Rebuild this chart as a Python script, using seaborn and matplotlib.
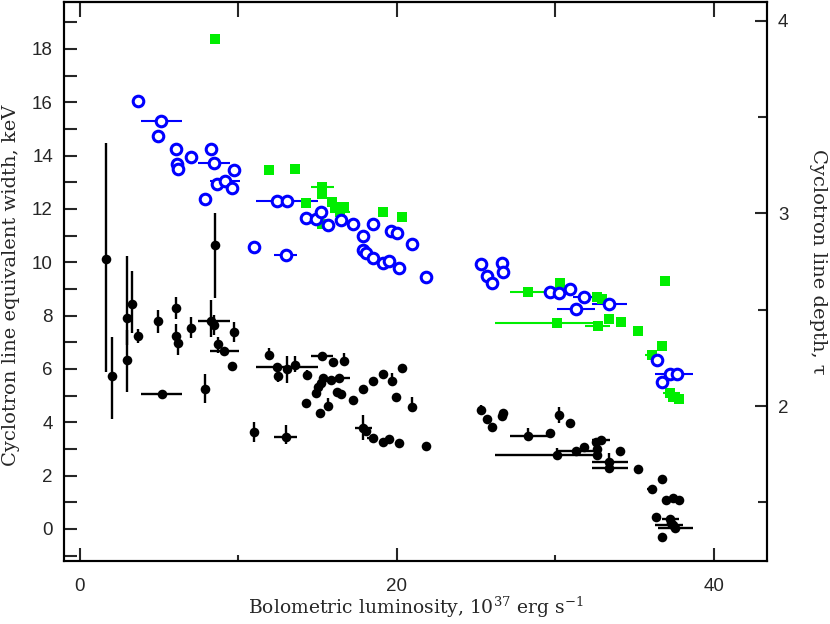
import numpy as np
import matplotlib
matplotlib.use('Agg')
import matplotlib.pyplot as plt
import seaborn as sns
from matplotlib.ticker import MultipleLocator, FixedLocator

# ---------------- data ----------------
# black: cyclotron line equivalent width (keV, left axis)
bk_L = [1.65, 2.05, 3.00, 3.00, 3.27, 3.67, 4.95, 5.17, 6.07, 6.07,
        6.21, 7.00, 7.90, 8.28, 8.49, 8.55, 8.72, 9.12, 9.62, 9.71,
        11.01, 11.96, 12.47, 12.52, 13.05, 13.01, 13.60, 14.32, 14.25, 14.90,
        15.05, 15.20, 15.36, 15.85, 15.26, 15.96, 16.65, 16.37, 15.15, 15.64,
        16.21, 16.46, 17.22, 17.85, 18.52, 19.15, 19.72, 20.31, 19.97, 20.96,
        17.89, 18.06, 18.48, 19.15, 19.51, 20.12, 21.84, 25.32, 25.72, 26.02,
        26.61, 26.72, 28.31, 29.67, 30.25, 30.91, 30.13, 31.32, 31.82, 32.57,
        32.87, 32.63, 32.66, 33.41, 33.41, 34.11, 35.23, 36.74, 36.09, 36.97,
        37.44, 37.82, 36.38, 37.26, 37.30, 37.44, 37.58, 36.74]
bk_ew = [10.11, 5.75, 7.92, 6.34, 8.44, 7.25, 7.80, 5.05, 8.30, 7.25,
         6.96, 7.55, 5.26, 7.81, 7.66, 10.65, 6.94, 6.69, 6.12, 7.39,
         3.64, 6.52, 6.06, 5.74, 6.00, 3.45, 6.15, 5.77, 4.71, 5.09,
         5.31, 5.46, 5.67, 5.59, 6.50, 6.25, 6.31, 5.67, 4.34, 4.61,
         5.13, 5.06, 4.84, 5.26, 5.56, 5.81, 5.56, 6.05, 4.96, 4.59,
         3.78, 3.67, 3.42, 3.27, 3.37, 3.24, 3.12, 4.45, 4.12, 3.82,
         4.24, 4.35, 3.50, 3.59, 4.27, 3.99, 2.77, 2.94, 3.06, 3.27,
         3.33, 3.00, 2.76, 2.52, 2.30, 2.92, 2.24, 1.86, 1.49, 1.10,
         1.18, 1.07, 0.46, 0.38, 0.23, 0.15, 0.02, -0.29]
bk_xbar_idx = [7, 13, 17, 22, 25, 34, 37, 45, 50, 52, 62, 66, 67, 70, 73, 74, 78, 83, 85, 86]
bk_xbar_lo = [3.86, 7.48, 8.21, 11.10, 12.27, 14.57, 16.10, 18.90, 17.36, 18.10,
              27.14, 26.20, 30.09, 32.32, 32.30, 32.30, 35.77, 36.71, 36.29, 36.50]
bk_xbar_hi = [6.47, 9.48, 10.06, 15.00, 13.70, 15.99, 17.05, 19.46, 18.42, 18.81,
              29.66, 32.50, 32.50, 33.45, 34.56, 34.56, 36.35, 37.80, 38.07, 38.67]
bk_ybar_idx = [0, 1, 2, 3, 4, 5, 6, 7, 8, 9, 10, 11, 12, 13, 14, 15, 16, 19, 20, 21,
               23, 24, 25, 26, 27, 36, 39, 46, 49, 50, 57, 62, 64, 66, 74]
bk_ybar_lo = [5.89, 4.12, 6.90, 5.15, 7.36, 6.97, 7.35, 4.87, 7.87, 6.90,
              6.52, 7.16, 4.72, 7.20, 7.27, 8.66, 6.60, 7.01, 3.26, 6.37,
              5.51, 5.47, 3.19, 5.89, 5.62, 6.15, 4.46, 5.36, 4.39, 3.34,
              4.31, 3.34, 3.96, 2.66, 2.21]
bk_ybar_hi = [14.47, 7.20, 10.25, 7.46, 9.69, 7.50, 8.21, 5.21, 8.70, 7.69,
              7.24, 7.95, 5.81, 8.59, 8.02, 11.85, 7.20, 7.76, 4.01, 6.79,
              6.04, 6.49, 3.90, 6.49, 5.96, 6.61, 4.90, 5.84, 4.96, 4.27,
              4.65, 3.79, 4.59, 3.03, 2.84]

# blue open circles: line depth tau (right axis)
bl_L = [3.67, 5.15, 4.93, 6.07, 6.10, 6.20, 7.02, 8.25, 8.47, 9.73,
        8.66, 9.16, 9.60, 7.90, 10.99, 13.01, 12.44, 13.07, 14.25, 14.90,
        15.19, 15.63, 16.45, 17.22, 17.85, 18.50, 19.63, 20.03, 20.96, 17.89,
        18.06, 18.48, 19.15, 19.51, 20.12, 21.84, 25.31, 25.72, 26.01, 26.61,
        26.72, 29.67, 30.21, 30.91, 31.83, 31.32, 33.41, 36.40, 37.21, 37.65,
        36.72]
bl_tau = [3.583, 3.482, 3.401, 3.334, 3.256, 3.230, 3.295, 3.336, 3.264, 3.225,
          3.152, 3.168, 3.131, 3.074, 2.825, 2.784, 3.064, 3.064, 2.976, 2.970,
          3.007, 2.939, 2.965, 2.943, 2.882, 2.946, 2.908, 2.899, 2.841, 2.810,
          2.792, 2.770, 2.741, 2.754, 2.715, 2.671, 2.735, 2.675, 2.638, 2.744,
          2.694, 2.593, 2.586, 2.606, 2.564, 2.503, 2.528, 2.240, 2.166, 2.166,
          2.125]
bl_xbar_idx = [1, 8, 11, 15, 16, 29, 44, 45, 46, 49]
bl_xbar_lo = [3.86, 7.46, 8.21, 12.25, 11.12, 17.49, 31.12, 30.11, 32.32, 36.29]
bl_xbar_hi = [6.45, 9.48, 10.11, 13.70, 15.03, 18.31, 32.50, 32.50, 34.52, 38.69]

# green squares: line depth tau (right axis)
gr_L = [8.55, 11.92, 13.58, 15.28, 15.31, 14.27, 15.89, 16.13, 16.67, 16.42,
        19.13, 20.31, 15.28, 28.30, 30.30, 30.13, 32.61, 32.93, 32.68, 33.41,
        34.13, 35.23, 36.94, 36.73, 36.08, 37.24, 37.43, 37.82]
gr_tau = [3.905, 3.225, 3.232, 3.139, 3.100, 3.056, 3.059, 3.033, 3.031, 3.007,
          3.009, 2.981, 2.944, 2.591, 2.637, 2.429, 2.566, 2.554, 2.418, 2.450,
          2.438, 2.392, 2.651, 2.313, 2.267, 2.067, 2.048, 2.038]
gr_xbar_idx = [3, 9, 13, 15, 18, 24, 25]
gr_xbar_lo = [14.56, 15.79, 27.14, 26.20, 31.87, 35.66, 36.80]
gr_xbar_hi = [16.01, 17.05, 29.35, 32.82, 33.45, 36.61, 37.87]

x_label = "Bolometric luminosity, 10$^{37}$ erg s$^{-1}$"
y_label = "Cyclotron line equivalent width, keV"
y2_label = "Cyclotron line depth, \u03c4"

# ---------------- style ----------------
sns.set_style('ticks')
plt.rcParams['font.family'] = ['Liberation Sans', 'DejaVu Sans']
plt.rcParams['mathtext.fontset'] = 'dejavuserif'
plt.rcParams['axes.linewidth'] = 1.5

BLUE = '#0000ff'
GREEN = '#00ee00'

fig = plt.figure(figsize=(8.3, 6.24), dpi=100)
ax = fig.add_axes([64 / 830, 1 - 561 / 624, 703 / 830, 559 / 624])
ax2 = ax.twinx()


def xbars(axis, xs, ys, idx, lo, hi, color, lw):
    xx = np.array([xs[i] for i in idx])
    yy = np.array([ys[i] for i in idx])
    err = [xx - np.array(lo), np.array(hi) - xx]
    axis.errorbar(xx, yy, xerr=err, fmt='none', ecolor=color, elinewidth=lw, capsize=0, zorder=2)


def ybars(axis, xs, ys, idx, lo, hi, color, lw):
    xx = np.array([xs[i] for i in idx])
    yy = np.array([ys[i] for i in idx])
    err = [yy - np.array(lo), np.array(hi) - yy]
    axis.errorbar(xx, yy, yerr=err, fmt='none', ecolor=color, elinewidth=lw, capsize=0, zorder=2)


# black equivalent widths
xbars(ax, bk_L, bk_ew, bk_xbar_idx, bk_xbar_lo, bk_xbar_hi, 'black', 1.7)
ybars(ax, bk_L, bk_ew, bk_ybar_idx, bk_ybar_lo, bk_ybar_hi, 'black', 1.7)
sns.scatterplot(x=bk_L, y=bk_ew, ax=ax, color='black', s=48, linewidth=0, zorder=3)

# green squares
xbars(ax2, gr_L, gr_tau, gr_xbar_idx, gr_xbar_lo, gr_xbar_hi, GREEN, 1.5)
sns.scatterplot(x=gr_L, y=gr_tau, ax=ax2, color=GREEN, marker='s', s=62, linewidth=0, zorder=3)

# blue open circles
xbars(ax2, bl_L, bl_tau, bl_xbar_idx, bl_xbar_lo, bl_xbar_hi, BLUE, 1.5)
sns.scatterplot(x=bl_L, y=bl_tau, ax=ax2, color=BLUE, facecolor='white', edgecolor=BLUE,
                marker='o', s=58, linewidth=2.2, zorder=4)

# ---------------- axes ----------------
ax.set_xlim(-1.0, 43.36)
ax.set_ylim(-1.20, 19.76)
ax2.set_ylim(1.196, 4.097)

ax.xaxis.set_major_locator(FixedLocator([0, 20, 40]))
ax.xaxis.set_minor_locator(FixedLocator([10, 30]))
ax.yaxis.set_major_locator(MultipleLocator(2))
ax.yaxis.set_minor_locator(MultipleLocator(1))
ax.tick_params(axis='x', which='major', direction='in', length=9.5, width=1.5,
               top=False, pad=12, labelsize=13.5)
ax.tick_params(axis='x', which='minor', direction='in', length=4.5, width=1.5, top=False)
ax.tick_params(axis='y', which='both', direction='in', length=9, width=1.5,
               right=False, pad=8, labelsize=13.5)

ax2.yaxis.set_major_locator(FixedLocator([2, 3, 4]))
ax2.yaxis.set_minor_locator(FixedLocator([1.5, 2.5, 3.5]))
ax2.tick_params(axis='y', which='major', direction='in', length=9, width=1.5, pad=8, labelsize=13.5)
ax2.tick_params(axis='y', which='minor', direction='in', length=6.5, width=1.5)
for a in (ax, ax2):
    for s in a.spines.values():
        s.set_linewidth(1.5)
        s.set_color('black')

sec = ax.secondary_xaxis('top')
sec.set_xticks([0, 10, 20, 30, 40])
sec.set_xticklabels([])
sec.tick_params(direction='in', length=10.5, width=1.5)
sec.spines['top'].set_linewidth(1.5)

ax.set_xlabel(x_label, fontfamily='DejaVu Serif', fontsize=13.5)
ax.set_ylabel(y_label, fontfamily='DejaVu Serif', fontsize=14)
ax2.set_ylabel(y2_label, fontfamily='DejaVu Serif', fontsize=14, rotation=270,
               va='center', ha='center')
ax.xaxis.set_label_coords(0.5, -0.06)
ax.yaxis.set_label_coords(-0.062, 0.494)
ax2.yaxis.set_label_coords(1.0725, 0.535)

fig.savefig('out.png', dpi=100)
